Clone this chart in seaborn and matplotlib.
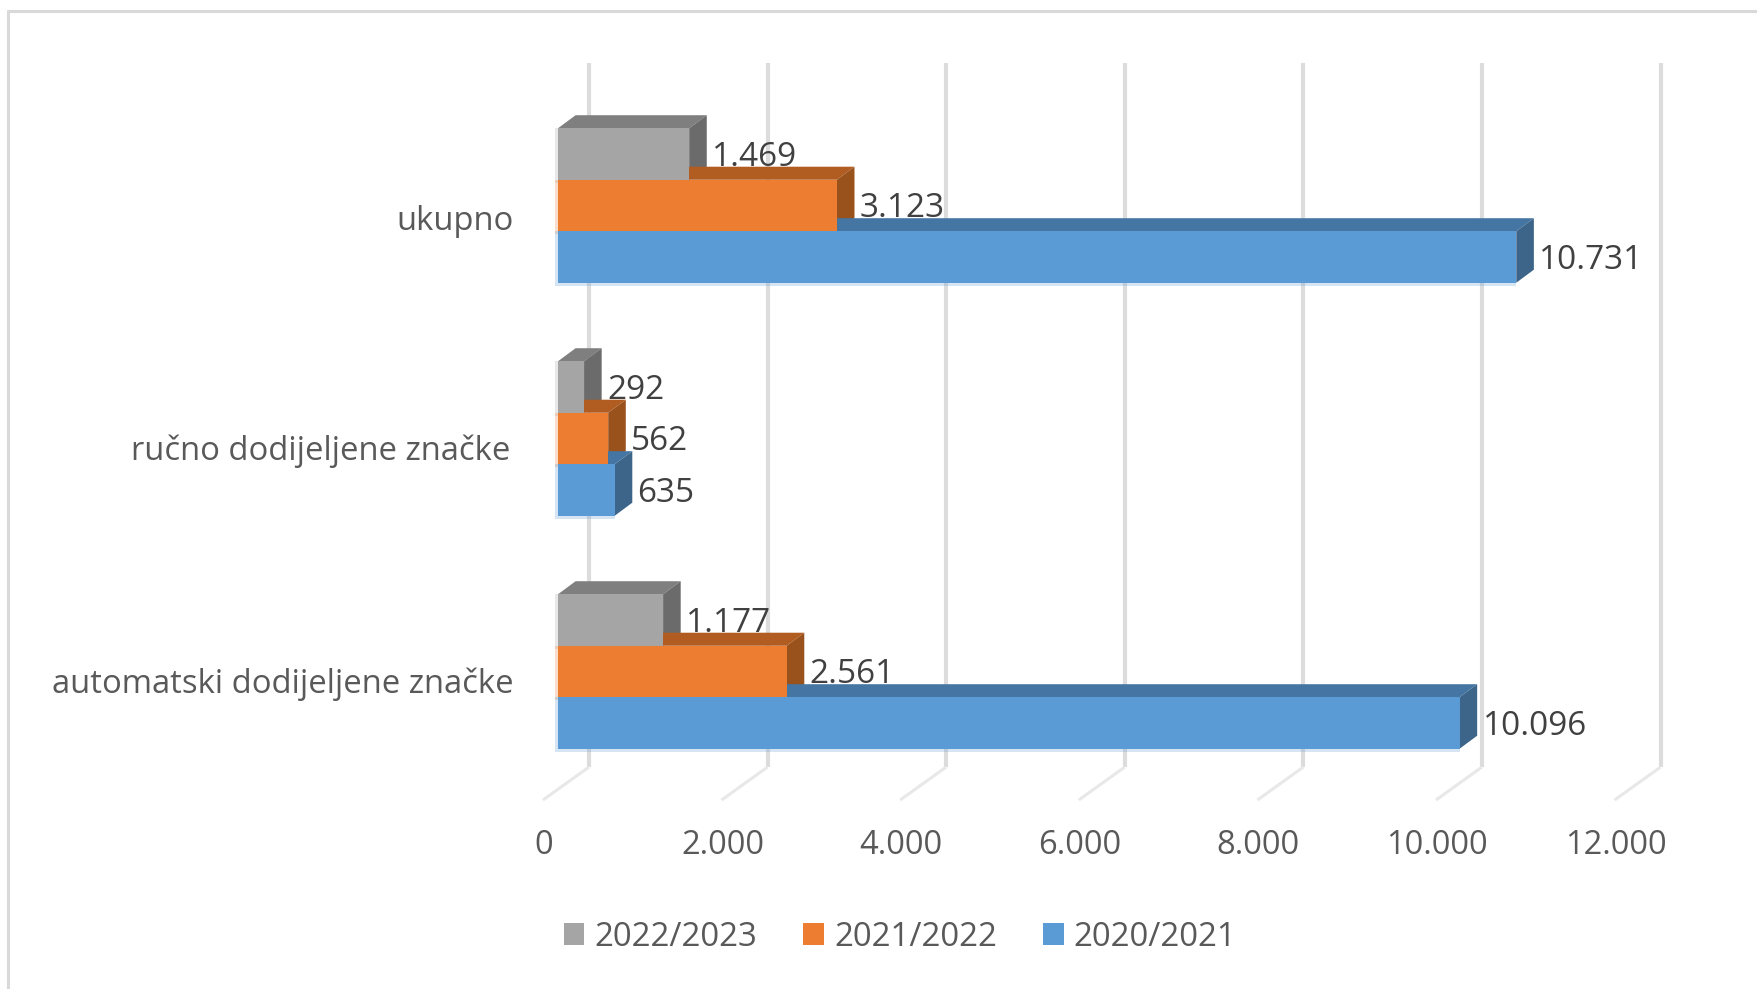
import pandas as pd
import matplotlib
matplotlib.use("Agg")
import matplotlib.pyplot as plt
from matplotlib.lines import Line2D
from matplotlib.patches import Polygon, Rectangle
from matplotlib.transforms import Affine2D
import seaborn as sns

categories = ["ukupno", "ručno dodijeljene značke", "automatski dodijeljene značke"]
seasons = ["2022/2023", "2021/2022", "2020/2021"]
values_2022 = [1469, 292, 1177]
values_2021 = [3123, 562, 2561]
values_2020 = [10731, 635, 10096]
x_ticks = [0, 2000, 4000, 6000, 8000, 10000, 12000]

front_colors = ["#a5a5a5", "#ed7d31", "#5b9bd5"]
top_colors = ["#7f7f7f", "#b15d22", "#4575a3"]
side_colors = ["#6b6b6b", "#9a521c", "#3c6589"]


def dotted(v):
    return f"{int(v):,}".replace(",", ".")


sns.set_style("white")
plt.rcParams["font.family"] = ["Open Sans", "DejaVu Sans"]

rows = []
for season, vals in zip(seasons, [values_2022, values_2021, values_2020]):
    for cat, v in zip(categories, vals):
        rows.append({"kategorija": cat, "godina": season, "broj": v})
df = pd.DataFrame(rows)

W, H = 1757, 989
fig = plt.figure(figsize=(W / 100, H / 100), dpi=100, facecolor="white")
ax = fig.add_axes([558 / W, 1 - 800 / H, 1071.6 / W, 737 / H])
ax.patch.set_alpha(0)

sns.barplot(data=df, y="kategorija", x="broj", hue="godina", order=categories,
            hue_order=seasons, palette=front_colors, width=0.663, gap=0,
            saturation=1, orient="h", linewidth=0, ax=ax, zorder=4)

ax.set_xlim(0, 12000)
ax.set_ylim(2.5515, -0.6116)
ax.set_xlabel("")
ax.set_ylabel("")
sns.despine(ax=ax, left=True, bottom=True, top=True, right=True)

# fake 3d: depth of the walls and of the bars, in data units
wall_x = 347
floor_x = -168
floor_y = 2.41
bar_dx = 197
bar_dy = 0.056
halo_x = 34
halo_y = 0.013

# walls and floor lines
y_bottom, y_top = ax.get_ylim()
for v in x_ticks:
    ax.plot([v + wall_x, v + wall_x], [y_top, floor_y], color="#dcdcdc", lw=3,
            clip_on=False, zorder=1, solid_capstyle="butt")
    ax.plot([v + wall_x, v + floor_x], [floor_y, y_bottom], color="#e8e8e8", lw=2.2,
            clip_on=False, zorder=1, solid_capstyle="butt")

# top and side face for every bar
for i, cont in enumerate(ax.containers):
    for bar in cont:
        x1 = bar.get_width()
        y0 = bar.get_y()
        y1 = y0 + bar.get_height()
        ax.add_patch(Rectangle((-halo_x, y0), x1 + halo_x, y1 - y0 + halo_y,
                               facecolor=front_colors[i], alpha=0.25, lw=0,
                               clip_on=False, zorder=3))
        ax.add_patch(Polygon([(0, y0), (x1, y0), (x1 + bar_dx, y0 - bar_dy), (bar_dx, y0 - bar_dy)],
                             facecolor=top_colors[i], lw=0, clip_on=False, zorder=2))
        ax.add_patch(Polygon([(x1, y0), (x1 + bar_dx, y0 - bar_dy), (x1 + bar_dx, y1 - bar_dy), (x1, y1)],
                             facecolor=side_colors[i], lw=0, clip_on=False, zorder=2))
    texts = ax.bar_label(cont, labels=[dotted(b.get_width()) for b in cont], padding=16.5,
                         color="#404040", fontsize=24, zorder=5, clip_on=False)
    # labels sit a little under the bar centre
    for t in texts:
        t.xyann = (t.xyann[0], t.xyann[1] - 2.5)

ax.set_xticks(x_ticks)
ax.set_xticklabels([dotted(v) for v in x_ticks])
ax.tick_params(axis="x", length=0, pad=21, labelsize=23.5, labelcolor="#595959")
ax.tick_params(axis="y", length=0, pad=32, labelsize=23.6, labelcolor="#595959")

# tick labels sit off the front of the floor, not on the value
for lab in ax.get_xticklabels():
    lab.set_transform(lab.get_transform() + Affine2D().translate(-14, 0))
y_label_shifts = [(0, -12), (-3, -9), (0, -9)]
for lab, shift in zip(ax.get_yticklabels(), y_label_shifts):
    lab.set_transform(lab.get_transform() + Affine2D().translate(*shift))

sns.move_legend(ax, loc="center", bbox_to_anchor=(900 / W, 1 - 937 / H),
                bbox_transform=fig.transFigure, ncol=3, title=None, frameon=False,
                fontsize=23.8, labelcolor="#595959", handlelength=0.625, handleheight=0.625,
                handletextpad=0.3, columnspacing=1.4, borderpad=0)

# chart frame
fig.add_artist(Line2D([8 / W, 8 / W], [0, 1 - 11 / H], color="#d9d9d9", lw=2.2))
fig.add_artist(Line2D([8 / W, 1], [1 - 11 / H, 1 - 11 / H], color="#d9d9d9", lw=2.2))

fig.savefig("out.png", dpi=100)
